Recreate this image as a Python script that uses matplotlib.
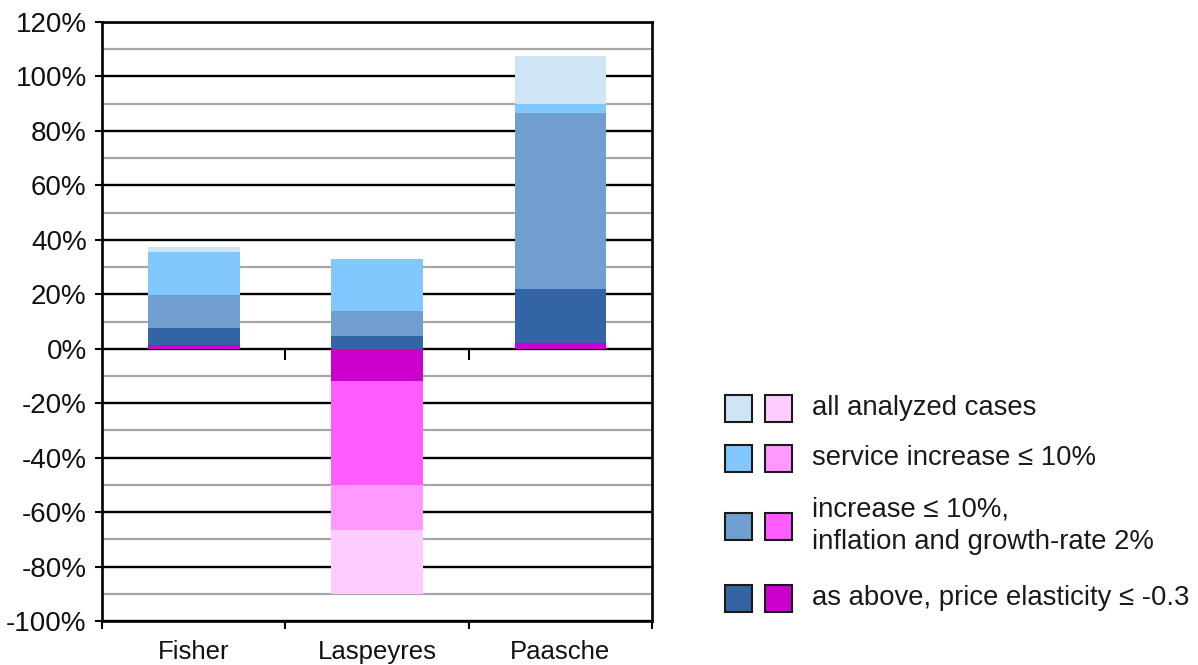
import matplotlib
matplotlib.use("Agg")
import matplotlib.pyplot as plt
from matplotlib.patches import Rectangle
from matplotlib.ticker import MultipleLocator, PercentFormatter
from matplotlib.markers import TICKDOWN

plt.rcParams['font.family'] = ['Liberation Sans', 'DejaVu Sans']
plt.rcParams['axes.unicode_minus'] = False

# Indizes
indices = ['Fisher', 'Laspeyres', 'Paasche']

# Werte in % (überlappende Balken, größter zuerst)
blau_alle = [37.3, 32.8, 107.4]
blau_service = [35.4, 32.8, 90.0]
blau_inflation = [19.7, 13.8, 86.6]
blau_elastizitaet = [7.6, 4.8, 22.1]

magenta_alle = [0, -89.9, 0]
magenta_service = [0, -66.7, 0]
magenta_inflation = [0, -49.9, 0]
magenta_elastizitaet = [1.4, -11.9, 2.1]

legende = ['all analyzed cases',
           'service increase \u2264 10%',
           'increase \u2264 10%,\ninflation and growth-rate 2%',
           'as above, price elasticity \u2264 -0.3']

farben_blau = ['#CFE5F3', '#80C8FF', '#6F9ECF', '#3364A5']
farben_magenta = ['#FFCCFF', '#FF99FF', '#FF5CFF', '#CC00CC']

fig = plt.figure(figsize=(11.98, 6.65), dpi=100)
ax = fig.add_axes([102/1198, 1-621/665, 550/1198, 599/665])

x = range(len(indices))
reihen_blau = [blau_alle, blau_service, blau_inflation, blau_elastizitaet]
reihen_magenta = [magenta_alle, magenta_service, magenta_inflation, magenta_elastizitaet]

for werte, farbe in zip(reihen_blau, farben_blau):
    ax.bar(x, werte, width=0.5, color=farbe, linewidth=0)
for werte, farbe in zip(reihen_magenta, farben_magenta):
    ax.bar(x, werte, width=0.5, color=farbe, linewidth=0)

ax.set_xlim(-0.5, len(indices) - 0.5)
ax.set_ylim(-100, 120)

# Gitter
ax.set_axisbelow(True)
ax.yaxis.set_major_locator(MultipleLocator(20))
ax.yaxis.set_minor_locator(MultipleLocator(10))
ax.yaxis.set_major_formatter(PercentFormatter(decimals=0))
ax.grid(True, which='major', axis='y', color='black', linewidth=1.7)
ax.grid(True, which='minor', axis='y', color='#A6A6A6', linewidth=1.6)

for s in ax.spines.values():
    s.set_linewidth(1.9)
    s.set_color('black')

ax.tick_params(axis='y', which='major', direction='out', length=5, width=1.5,
               labelsize=20, pad=6, labelcolor='#111111')
ax.tick_params(axis='y', which='minor', length=0)

ax.set_xticks(list(x))
ax.set_xticklabels(indices)
grenzen = [i - 0.5 for i in range(len(indices) + 1)]
ax.set_xticks(grenzen, minor=True)
ax.tick_params(axis='x', which='major', length=0, labelsize=18.5, pad=14,
               labelcolor='#111111')
ax.tick_params(axis='x', which='minor', direction='out', length=6, width=1.5)

# Striche an der Nulllinie
ax.plot(grenzen[1:-1], [0] * (len(grenzen) - 2), ls='none', marker=TICKDOWN,
        markersize=8, markeredgewidth=1.5, color='black', zorder=3)

# Legende
zeilen_y = [408, 458, 526, 598]
for i, text in enumerate(legende):
    yc = 1 - zeilen_y[i] / 665
    h = 27 / 665
    fig.patches.append(Rectangle((725/1198, yc - h/2), 27/1198, h, transform=fig.transFigure,
                                 facecolor=farben_blau[i], edgecolor='#1a1a1a', linewidth=1.5))
    fig.patches.append(Rectangle((765/1198, yc - h/2), 27/1198, h, transform=fig.transFigure,
                                 facecolor=farben_magenta[i], edgecolor='#1a1a1a', linewidth=1.5))
    fig.text(812/1198, yc, text, ha='left', va='center', fontsize=19.8,
             color='#1a1a1a', linespacing=1.3)

plt.savefig('out.png', dpi=100)
